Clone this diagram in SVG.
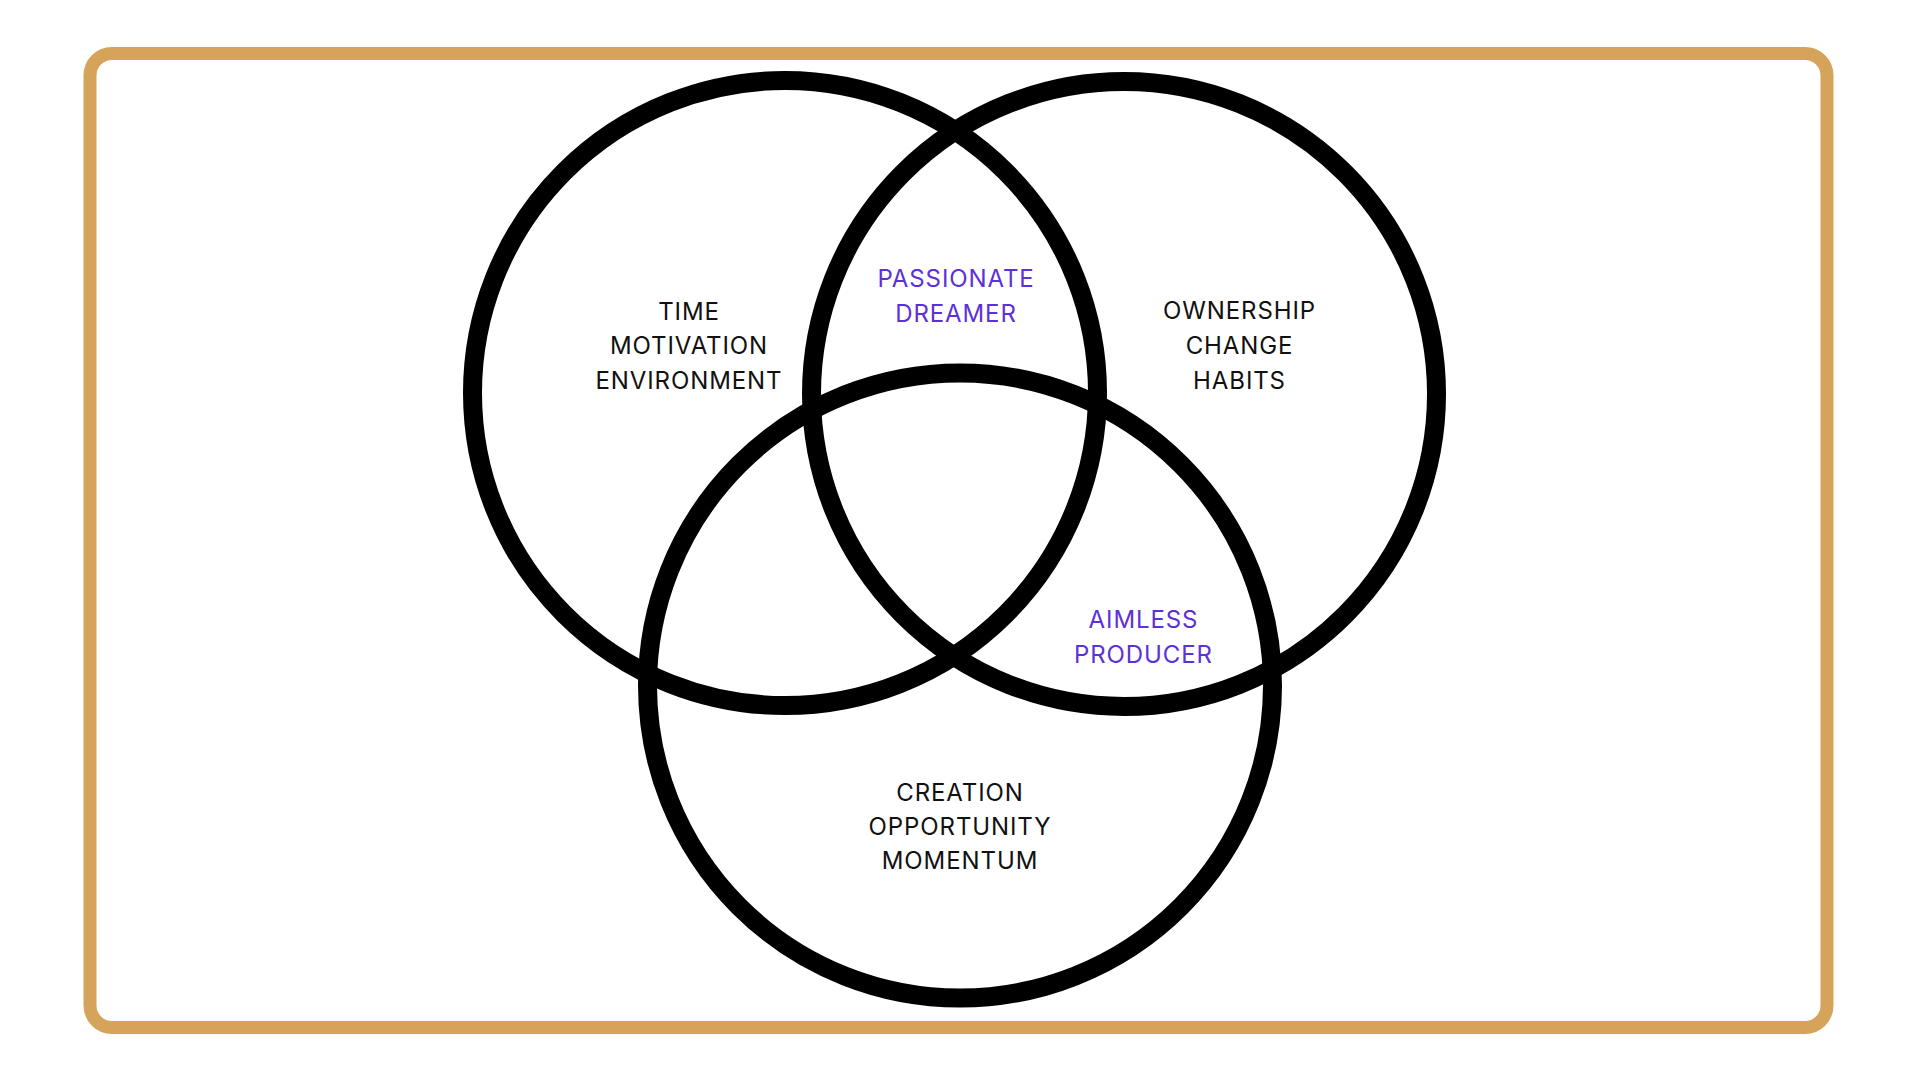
<svg xmlns="http://www.w3.org/2000/svg" width="1920" height="1080" viewBox="0 0 1920 1080">
<style>
.frame{fill:none;stroke:#d5a35a;stroke-width:13}
.ring{fill:none;stroke:#000;stroke-width:19}
.lbl{font-family:Inter,"Liberation Sans",sans-serif;font-size:24px;letter-spacing:0.9px;text-anchor:middle;fill:#111}
.mix{fill:#5d30d8}
</style>
<rect width="1920" height="1080" fill="#fff"/>
<rect class="frame" x="90" y="53.5" width="1737" height="974" rx="22"/>
<g id="connectors"></g>
<g id="circle-left"><circle class="ring" cx="785" cy="393" r="312.5"/></g>
<g id="circle-right"><circle class="ring" cx="1124" cy="394" r="312.5"/></g>
<g id="circle-bottom"><circle class="ring" cx="960" cy="685.5" r="312.5"/></g>
<g id="label-left">
<text class="lbl" x="689" y="319.5">TIME</text>
<text class="lbl" x="689" y="354">MOTIVATION</text>
<text class="lbl" x="689" y="389">ENVIRONMENT</text>
</g>
<g id="label-right">
<text class="lbl" x="1239.5" y="318.5">OWNERSHIP</text>
<text class="lbl" x="1239.5" y="353.5">CHANGE</text>
<text class="lbl" x="1239.5" y="388.5">HABITS</text>
</g>
<g id="label-bottom">
<text class="lbl" x="960" y="800.5">CREATION</text>
<text class="lbl" x="960" y="835">OPPORTUNITY</text>
<text class="lbl" x="960" y="869">MOMENTUM</text>
</g>
<g id="label-passionate">
<text class="lbl mix" x="956" y="287">PASSIONATE</text>
<text class="lbl mix" x="956" y="322">DREAMER</text>
</g>
<g id="label-aimless">
<text class="lbl mix" x="1143.5" y="627.5">AIMLESS</text>
<text class="lbl mix" x="1143.5" y="662.5">PRODUCER</text>
</g>
</svg>
